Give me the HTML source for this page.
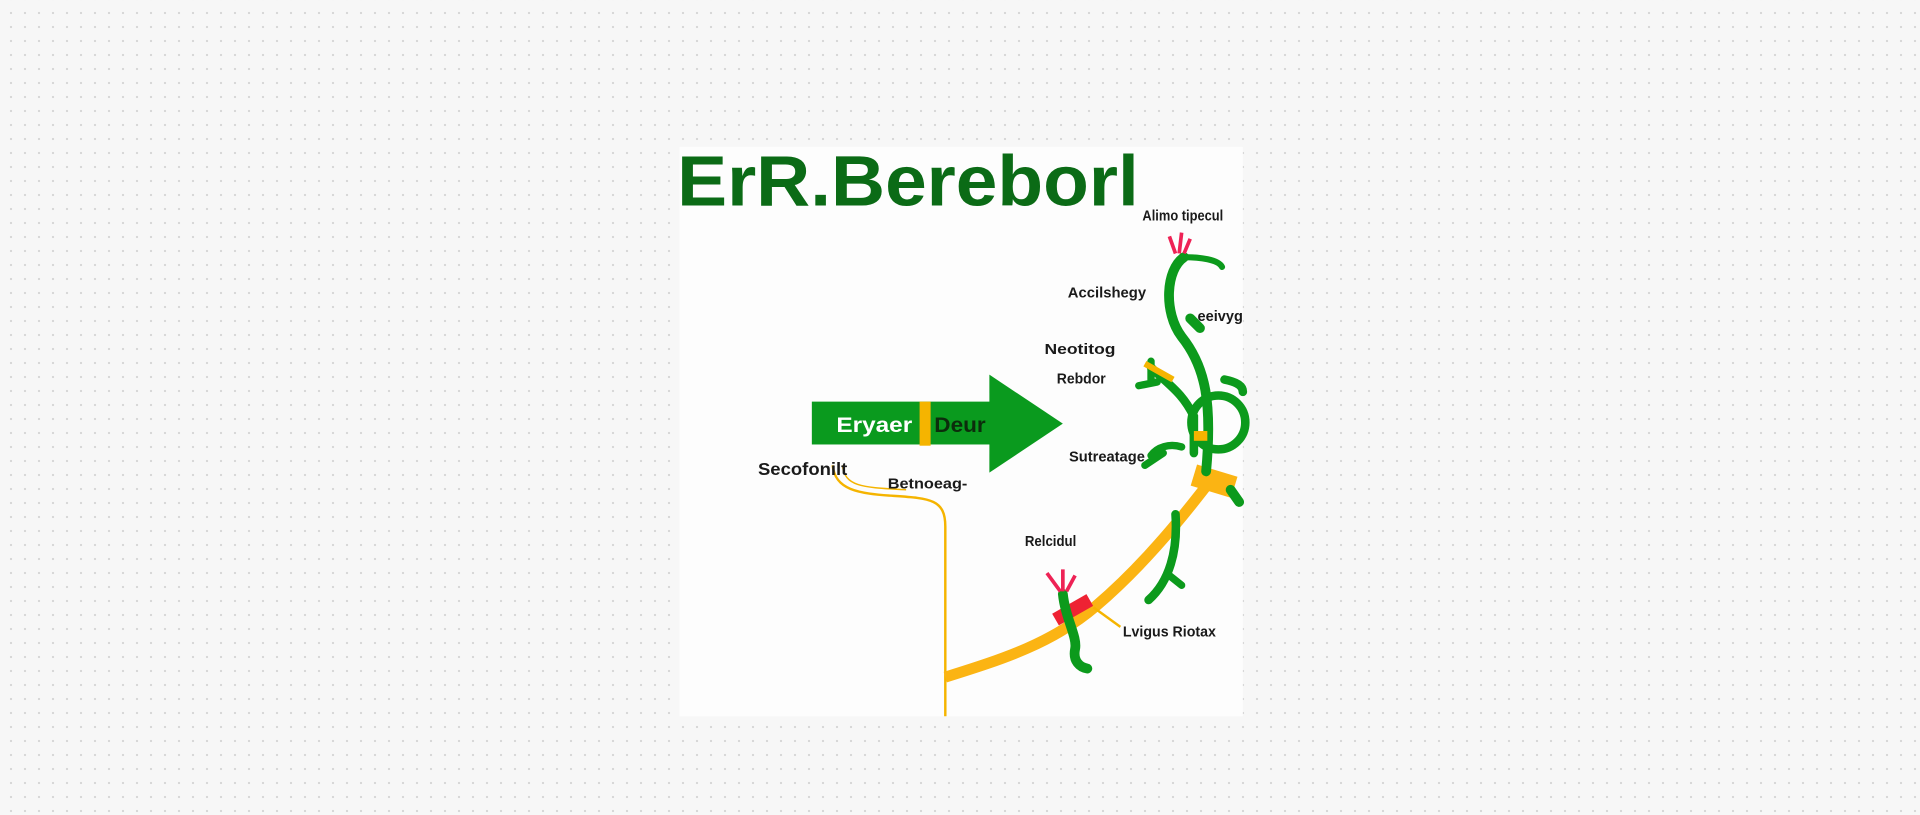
<!DOCTYPE html>
<html><head><meta charset="utf-8"><style>
html,body{margin:0;padding:0;width:1920px;height:815px;overflow:hidden;background:#f7f7f7;
background-image:radial-gradient(circle,#d6d6d6 1px,transparent 1.3px);background-size:14px 14px;background-position:4px 6px}
svg{position:absolute;left:0;top:0}
text{font-family:"Liberation Sans",sans-serif;font-weight:bold}
</style></head><body>
<svg width="1920" height="815" viewBox="0 0 1568 665.6" xmlns="http://www.w3.org/2000/svg">
<rect x="555" y="120" width="460" height="465" fill="#fdfdfd"/>
<text x="553" y="168" font-size="58" fill="#0b6b16" textLength="377" lengthAdjust="spacingAndGlyphs">ErR.Bereborl</text>
<!-- arrow -->
<rect x="663" y="328" width="147" height="35" fill="#0a9a1e"/>
<polygon points="808,306 868,346 808,386" fill="#0a9a1e"/>
<rect x="751" y="328" width="9" height="36" fill="#f5b400"/>
<text x="683" y="353" font-size="17" fill="#fff" font-weight="normal" textLength="62" lengthAdjust="spacingAndGlyphs">Eryaer</text>
<text x="763" y="353" font-size="17" fill="#0c2d0c" font-weight="normal" textLength="42" lengthAdjust="spacingAndGlyphs">Deur</text>
<!-- thin orange line -->
<path d="M680,380 C682,400 700,403 730,405 C760,407 772,408 772,430 L772,585" fill="none" stroke="#f5b400" stroke-width="2"/>
<path d="M688,380 C690,398 705,398 740,400" fill="none" stroke="#f5b400" stroke-width="1.2"/>
<!-- thick orange -->
<path d="M772,553 C820,538 860,525 895,495 C930,465 960,430 992,388" fill="none" stroke="#fbb413" stroke-width="9"/>
<path d="M975,388 L1008,398" stroke="#fbb413" stroke-width="18"/>
<path d="M862,506 L890,490" stroke="#ee2233" stroke-width="11"/>
<path d="M893,496 L915,512" stroke="#f5b400" stroke-width="2"/>
<!-- green vine -->
<g fill="none" stroke="#0c9a1c" stroke-linecap="round">
<path d="M967,210 C952,220 950,255 965,275 C985,300 990,330 985,385" stroke-width="8"/>
<path d="M967,210 C980,210 995,212 998,218" stroke-width="5"/>
<path d="M980,268 L972,260" stroke-width="8"/>
<circle cx="995" cy="345" r="22" stroke-width="7"/>
<path d="M1000,310 C1010,312 1015,315 1015,320" stroke-width="7"/>
<path d="M940,300 C955,315 965,320 975,340 L975,370" stroke-width="7"/>
<path d="M940,295 L940,310 M930,315 L945,312" stroke-width="6"/>
<path d="M960,420 C962,450 955,475 938,490" stroke-width="7"/>
<path d="M955,470 L965,478" stroke-width="6"/>
<path d="M940,372 C945,365 955,362 965,365 M935,380 L950,370" stroke-width="6"/>
<path d="M1005,400 L1012,410" stroke-width="8"/>
<path d="M868,485 C870,505 880,520 878,530 C876,540 882,545 888,546" stroke-width="8"/>
</g>
<path d="M935,297 L958,310" stroke="#f5b400" stroke-width="5"/>
<path d="M975,356 L986,356" stroke="#f5b400" stroke-width="8"/>
<!-- red flowers -->
<g stroke="#ee2255" stroke-width="3" fill="none">
<path d="M960,207 L955,193 M963,207 L965,190 M967,207 L972,195"/>
<path d="M866,483 L855,468 M868,483 L868,465 M871,483 L878,470"/>
</g>
<!-- labels -->
<g font-size="12" fill="#1a1a1a">
<text x="933" y="180" textLength="66" lengthAdjust="spacingAndGlyphs">Alimo tipecul</text>
<text x="872" y="243" textLength="64" lengthAdjust="spacingAndGlyphs">Accilshegy</text>
<text x="978" y="262" textLength="37" lengthAdjust="spacingAndGlyphs">eeivyg</text>
<text x="853" y="289" textLength="58" lengthAdjust="spacingAndGlyphs">Neotitog</text>
<text x="863" y="313" textLength="40" lengthAdjust="spacingAndGlyphs">Rebdor</text>
<text x="873" y="377" textLength="62" lengthAdjust="spacingAndGlyphs">Sutreatage</text>
<text x="619" y="388" font-size="14" textLength="73" lengthAdjust="spacingAndGlyphs">Secofonilt</text>
<text x="725" y="399" textLength="65" lengthAdjust="spacingAndGlyphs">Betnoeag-</text>
<text x="837" y="446" textLength="42" lengthAdjust="spacingAndGlyphs">Relcidul</text>
<text x="917" y="520" textLength="76" lengthAdjust="spacingAndGlyphs">Lvigus Riotax</text>
</g>
</svg>
</body></html>
